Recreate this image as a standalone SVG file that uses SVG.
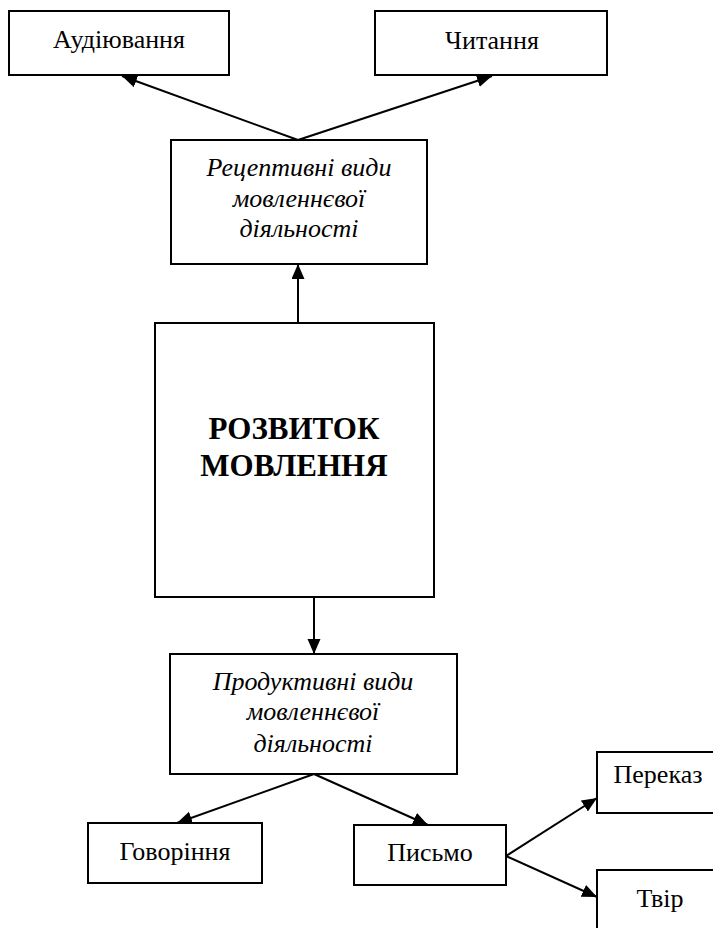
<svg xmlns="http://www.w3.org/2000/svg" width="713" height="928" viewBox="0 0 713 928">
<style>
.box{fill:#fff;stroke:#000;stroke-width:2}
text{font-family:'Liberation Serif','DejaVu Serif',serif;font-size:26px;fill:#000;text-anchor:middle}
.i{font-style:italic}
.b{font-weight:bold;font-size:31px}
.c{stroke:#000;stroke-width:2;fill:none;marker-end:url(#ah)}
</style>
<defs>
<marker id="ah" markerUnits="userSpaceOnUse" markerWidth="16" markerHeight="14" refX="15" refY="6.5" orient="auto">
<path d="M0,0 L15,6.5 L0,13 z" fill="#000"/>
</marker>
</defs>
<rect width="713" height="928" fill="#fff"/>
<g id="connectors">
<line class="c" x1="298" y1="140" x2="122" y2="76"/>
<line class="c" x1="298" y1="140" x2="492" y2="76"/>
<line class="c" x1="298" y1="323" x2="298" y2="264"/>
<line class="c" x1="314" y1="597" x2="314" y2="654"/>
<line class="c" x1="314" y1="774" x2="177" y2="823"/>
<line class="c" x1="314" y1="774" x2="428" y2="825"/>
<line class="c" x1="506" y1="856" x2="597" y2="798"/>
<line class="c" x1="506" y1="856" x2="597" y2="897"/>
</g>
<g id="audiuvannia">
<rect class="box" x="9" y="11" width="220" height="64"/>
<text font-family="Liberation Serif, serif" x="119" y="48">Аудіювання</text>
</g>
<g id="chytannia">
<rect class="box" x="375" y="11" width="232" height="64"/>
<text font-family="Liberation Serif, serif" x="492" y="49">Читання</text>
</g>
<g id="receptive">
<rect class="box" x="171" y="140" width="256" height="124"/>
<text class="i" font-family="Liberation Serif, serif" x="299" y="176">Рецептивні види</text>
<text class="i" font-family="Liberation Serif, serif" x="299" y="207">мовленнєвої</text>
<text class="i" font-family="Liberation Serif, serif" x="299" y="237">діяльності</text>
</g>
<g id="rozvytok">
<rect class="box" x="155" y="323" width="279" height="274"/>
<text class="b" font-family="Liberation Serif, serif" x="294" y="439">РОЗВИТОК</text>
<text class="b" font-family="Liberation Serif, serif" x="294" y="476">МОВЛЕННЯ</text>
</g>
<g id="productive">
<rect class="box" x="170" y="654" width="287" height="120"/>
<text class="i" font-family="Liberation Serif, serif" x="313" y="690">Продуктивні види</text>
<text class="i" font-family="Liberation Serif, serif" x="313" y="720">мовленнєвої</text>
<text class="i" font-family="Liberation Serif, serif" x="313" y="752">діяльності</text>
</g>
<g id="hovorinnia">
<rect class="box" x="88" y="823" width="174" height="60"/>
<text font-family="Liberation Serif, serif" x="175" y="860">Говоріння</text>
</g>
<g id="pysmo">
<rect class="box" x="354" y="825" width="152" height="60"/>
<text font-family="Liberation Serif, serif" x="430" y="861">Письмо</text>
</g>
<g id="perekaz">
<rect class="box" x="597" y="752" width="130" height="61"/>
<text font-family="Liberation Serif, serif" x="658" y="783">Переказ</text>
</g>
<g id="tvir">
<rect class="box" x="597" y="870" width="130" height="70"/>
<text font-family="Liberation Serif, serif" x="660" y="907">Твір</text>
</g>
</svg>
